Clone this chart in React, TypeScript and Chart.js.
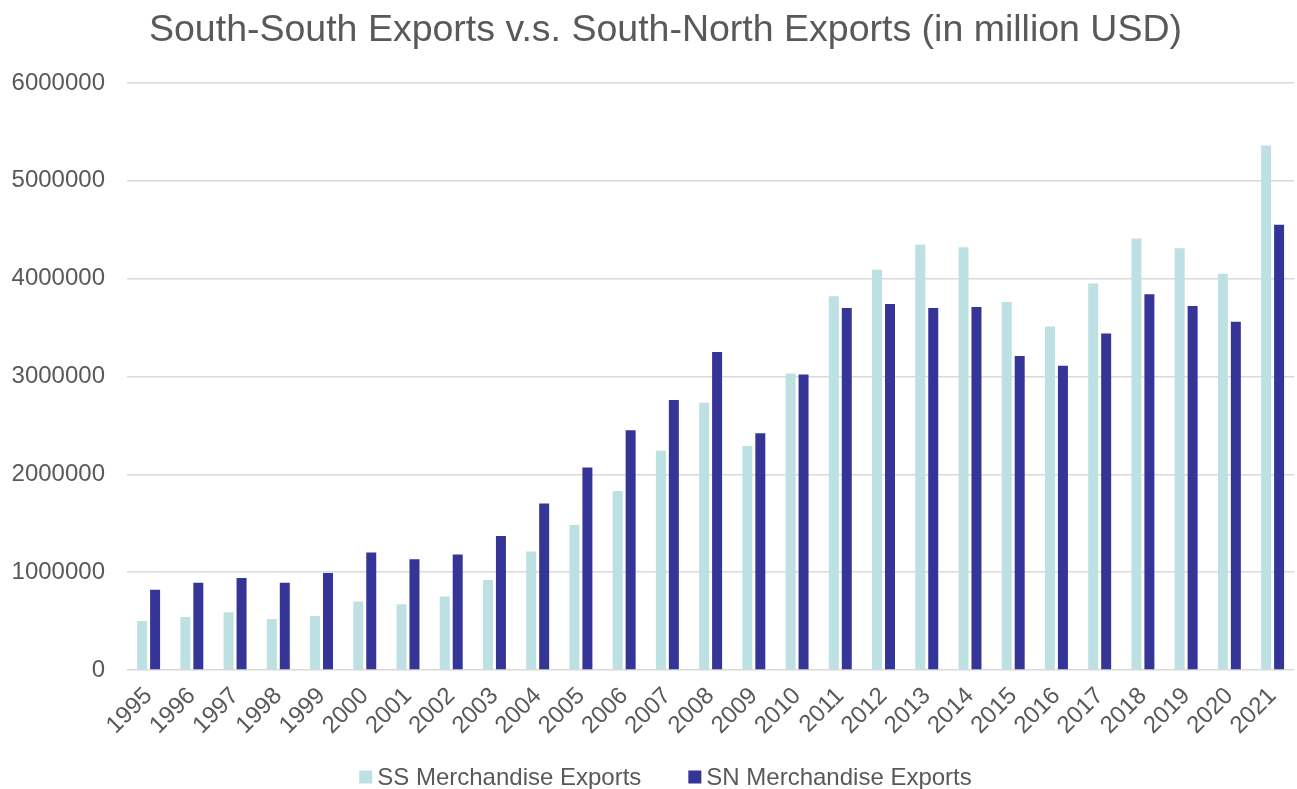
import React, { useEffect, useRef } from "react";
import { Chart, registerables } from "chart.js";

Chart.register(...registerables);

const years = ["1995","1996","1997","1998","1999","2000","2001","2002","2003","2004","2005","2006","2007","2008","2009","2010","2011","2012","2013","2014","2015","2016","2017","2018","2019","2020","2021"];
const ssExports = [500000,540000,590000,520000,550000,700000,670000,750000,920000,1210000,1480000,1830000,2240000,2730000,2290000,3030000,3820000,4090000,4350000,4320000,3760000,3510000,3950000,4410000,4310000,4050000,5360000];
const snExports = [820000,890000,940000,890000,990000,1200000,1130000,1180000,1370000,1700000,2070000,2450000,2760000,3250000,2420000,3020000,3700000,3740000,3700000,3710000,3210000,3110000,3440000,3840000,3720000,3560000,4550000];
const seriesLabels = ["SS Merchandise Exports", "SN Merchandise Exports"];
const seriesColors = ["#bde0e3", "#353497"];
const titleText = "South-South Exports v.s. South-North Exports (in million USD)";

const FONT = "Liberation Sans, Arial, sans-serif";

const yLabelUnclip = {
  id: "yLabelUnclip",
  afterLayout(chart: any) {
    if (chart.scales.y) chart.scales.y.left = 0;
  },
};

const bottomLegend = {
  id: "bottomLegend",
  afterDraw(chart: any) {
    const ctx = chart.ctx;
    ctx.save();
    ctx.font = `24px ${FONT}`;
    ctx.textBaseline = "middle";
    ctx.textAlign = "left";
    const box = 13;
    const gap = 5;
    const itemGap = 47;
    const items = chart.data.datasets.map((d: any) => ({
      label: d.label,
      color: d.backgroundColor,
      w: box + gap + ctx.measureText(d.label).width,
    }));
    const total = items.reduce((s: number, it: any) => s + it.w, 0) + itemGap * (items.length - 1);
    const center = (36 + chart.width - 2) / 2;
    const y = 777;
    let x = center - total / 2;
    for (const it of items) {
      ctx.fillStyle = it.color;
      ctx.fillRect(x, y - box / 2, box, box);
      ctx.fillStyle = "#595959";
      ctx.fillText(it.label, x + box + gap, y + 1);
      x += it.w + itemGap;
    }
    ctx.restore();
  },
};

export default function App() {
  const ref = useRef<HTMLCanvasElement | null>(null);
  useEffect(() => {
    if (!ref.current) return;
    const chart = new Chart(ref.current, {
      type: "bar",
      data: {
        labels: years,
        datasets: [
          { label: seriesLabels[0], data: ssExports, backgroundColor: seriesColors[0], barPercentage: 0.77, categoryPercentage: 0.6 },
          { label: seriesLabels[1], data: snExports, backgroundColor: seriesColors[1], barPercentage: 0.77, categoryPercentage: 0.6 },
        ],
      },
      plugins: [yLabelUnclip, bottomLegend],
      options: {
        animation: false,
        responsive: true,
        maintainAspectRatio: false,
        layout: { padding: { left: 36, right: 2, top: 0, bottom: 45 } },
        plugins: {
          title: {
            display: true,
            text: titleText,
            color: "#595959",
            font: { family: FONT, size: 37.5, weight: "normal" },
            padding: { top: 8, bottom: 30 },
          },
          legend: { display: false },
          tooltip: { enabled: false },
        },
        scales: {
          x: {
            grid: { display: false },
            border: { display: false },
            ticks: {
              color: "#595959",
              font: { family: FONT, size: 24 },
              maxRotation: 45,
              minRotation: 45,
              autoSkip: false,
              padding: 4,
            },
          },
          y: {
            min: 0,
            max: 6000000,
            grid: { color: "#d9d9d9", lineWidth: 1.5, drawTicks: false },
            border: { display: false },
            afterFit: (scale: any) => { scale.width = 91; },
            ticks: {
              stepSize: 1000000,
              color: "#595959",
              font: { family: FONT, size: 24 },
              padding: 22,
              callback: (v: any) => String(v),
            },
          },
        },
      },
    });
    return () => chart.destroy();
  }, []);
  return (
    <div style={{ position: "fixed", left: 0, top: 0, width: 1297, height: 789, background: "#fff" }}>
      <canvas ref={ref} />
    </div>
  );
}
